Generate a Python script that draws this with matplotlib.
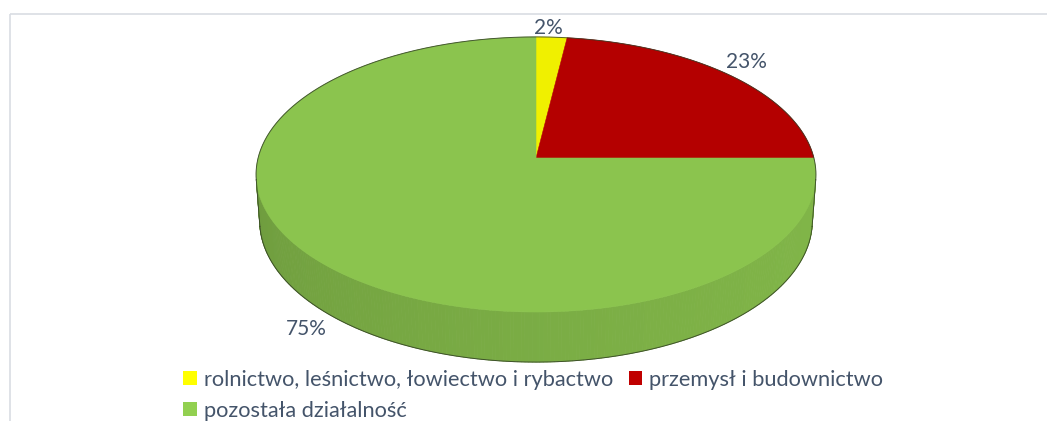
import numpy as np
import matplotlib
matplotlib.use('Agg')
import matplotlib.pyplot as plt
from matplotlib.patches import Polygon, Patch, Rectangle

plt.rcParams['font.family'] = ['Lato', 'DejaVu Sans']

# data
labels = ['rolnictwo, leśnictwo, łowiectwo i rybactwo', 'przemysł i budownictwo', 'pozostała działalność']
shares = [2, 23, 75]
top_colors = ['#f0f000', '#b40000', '#8bc44e']
legend_colors = ['#ffff00', '#c00000', '#92d050']
text_color = '#44546a'

# 3d view of the pie (pixel space)
cx, cy = 536, 158
elev = np.radians(29.2)
dist = 7.29
focal = 2026
thick = 0.1925


def project(u, v, h):
    depth = dist + v * np.cos(elev) - h * np.sin(elev)
    up = v * np.sin(elev) + h * np.cos(elev)
    return cx + focal * u / depth, cy - focal * up / depth


def rim(phi, h=0.0, r=1.0):
    return project(r * np.sin(phi), r * np.cos(phi), h)


fig = plt.figure(figsize=(10.47, 4.21), dpi=100)
ax = fig.add_axes([0, 0, 1, 1])
ax.set_xlim(0, 1047)
ax.set_ylim(421, 0)
ax.axis('off')

# chart frame (cut off at right/bottom like the source)
ax.add_patch(Rectangle((10, 14), 1100, 500, fill=False, ec='#d9dde3', lw=1.2, clip_on=False))

fracs = np.array(shares) / sum(shares)
bounds = np.concatenate([[0], np.cumsum(fracs)]) * 2 * np.pi


def slice_at(phi):
    return np.searchsorted(bounds, phi % (2 * np.pi), side='right') - 1


def shade(col, k):
    rgb = np.array(matplotlib.colors.to_rgb(col))
    return tuple(np.clip(rgb * k, 0, 1))


# side is visible where the rim faces the camera
tang = np.arccos(-1 / (dist * np.cos(elev)))

# outer side, front part, drawn back to front
n = 240
edges = np.linspace(tang, 2 * np.pi - tang, n + 1)
strips = []
for a0, a1 in zip(edges[:-1], edges[1:]):
    mid = (a0 + a1) / 2
    t = (mid - np.pi / 2) / np.pi  # 0 right .. 1 left
    k = 0.93 - 0.05 * t - 0.10 * t ** 2
    col = shade(top_colors[slice_at(mid)], k)
    pts = [rim(a0), rim(a1), rim(a1, -thick), rim(a0, -thick)]
    strips.append((np.cos(mid), pts, col))
for _, pts, col in sorted(strips, key=lambda s: -s[0]):
    ax.add_patch(Polygon(pts, closed=True, fc=col, ec=col, lw=0.6))

# top face slices
for i in range(len(shares)):
    ph = np.linspace(bounds[i], bounds[i + 1], 200)
    xs, ys = rim(ph)
    pts = [project(0, 0, 0)] + list(zip(xs, ys))
    ax.add_patch(Polygon(pts, closed=True, fc=top_colors[i], ec=top_colors[i], lw=0.4))

# outline of the silhouette
ax.plot(*rim(np.linspace(-tang, tang, 300)), color='#2e3a22', lw=0.7, alpha=0.8)
ax.plot(*rim(np.linspace(tang, 2 * np.pi - tang, 300), -thick), color='#2e3a22', lw=0.7, alpha=0.8)
for a in (tang, 2 * np.pi - tang):
    x0, y0 = rim(a)
    x1, y1 = rim(a, -thick)
    ax.plot([x0, x1], [y0, y1], color='#2e3a22', lw=0.7, alpha=0.8)

# percentage labels
label_r = [1.1, 1.13, 1.1]
label_h = [0.0, 0.0, -thick]
label_nudge = [(-5, -2), (-6, 3), (5, -6)]
for i, s in enumerate(shares):
    mid = (bounds[i] + bounds[i + 1]) / 2
    x, y = rim(mid, label_h[i], label_r[i])
    ax.annotate(f'{s}%', (x, y), xytext=label_nudge[i], textcoords='offset pixels',
                ha='center', va='center', fontsize=15, color=text_color)

# legend (row order: yellow, red / green)
handles = [Patch(fc=c, ec='none') for c in legend_colors]
order = [0, 2, 1]
fig.legend([handles[i] for i in order], [labels[i] for i in order],
           loc='upper left', bbox_to_anchor=(0.1748, 0.121), ncol=2, frameon=False,
           fontsize=15.7, labelcolor=text_color, handlelength=0.62, handleheight=0.62,
           handletextpad=0.33, columnspacing=0.72, labelspacing=0.48, borderaxespad=0,
           borderpad=0)

fig.savefig('out.png', dpi=100)
